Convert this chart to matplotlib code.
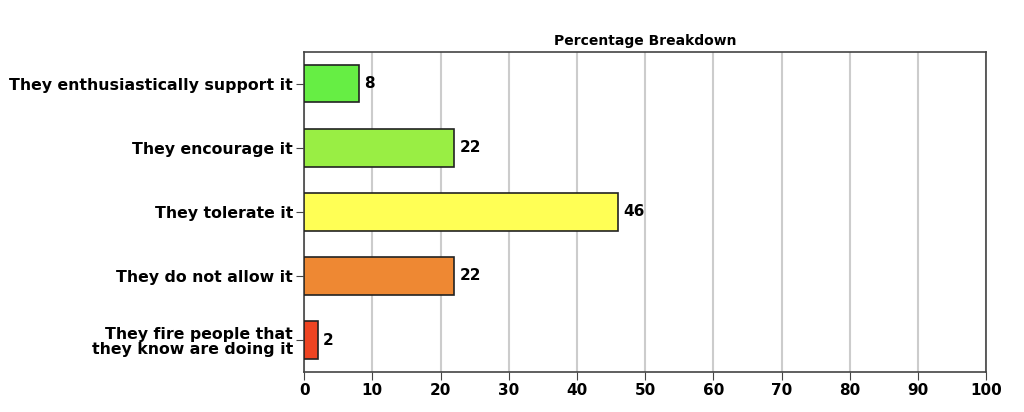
import matplotlib
matplotlib.use("Agg")
import matplotlib.pyplot as plt

categories = ["They enthusiastically support it", "They encourage it", "They tolerate it",
              "They do not allow it", "They fire people that\nthey know are doing it"]
values = [8, 22, 46, 22, 2]
colors = ["#66ee44", "#99ee44", "#ffff55", "#ee8833", "#ee4422"]
xticks = list(range(0, 101, 10))

fig = plt.figure(figsize=(10.24, 4.12), dpi=100)
ax = fig.add_axes([0.297, 0.097, 0.666, 0.777])
y = list(range(len(categories)))[::-1]
ax.barh(y, values, height=0.58, color=colors, edgecolor="#222222", linewidth=1.2, zorder=3)
for yi, v in zip(y, values):
    ax.text(v + 0.8, yi, str(v), va="center", ha="left", fontsize=11, fontweight="bold")
ax.set_xlim(0, 100)
ax.set_ylim(-0.5, 4.5)
ax.set_xticks(xticks)
ax.set_yticks(y)
ax.set_yticklabels(categories, fontsize=11.3, fontweight="bold", ha="right", multialignment="right",
                   linespacing=1.0)
for lbl in ax.get_xticklabels():
    lbl.set_fontweight("bold"); lbl.set_fontsize(11)
ax.grid(axis="x", color="#cccccc", linewidth=1.5, zorder=0)
for s in ax.spines.values():
    s.set_color("#444444"); s.set_linewidth(1.2)
ax.tick_params(length=6, color="#444444", pad=2)
ax.set_title("Percentage Breakdown", fontsize=10, fontweight="bold", pad=5)
fig.savefig("out.png", dpi=100)
